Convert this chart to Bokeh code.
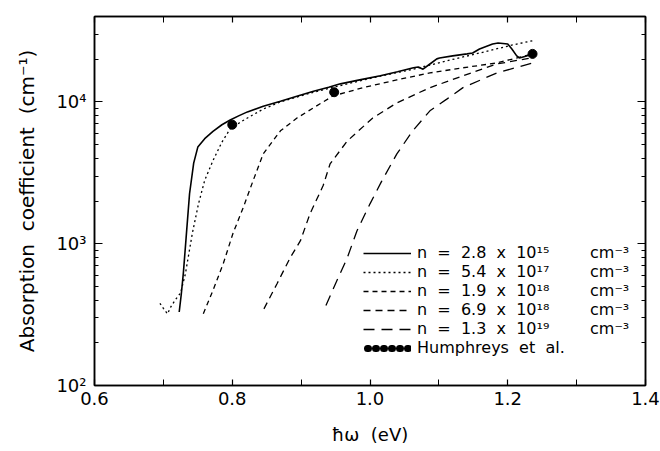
from bokeh.plotting import figure
from bokeh.models import (FixedTicker, LogAxis, LinearAxis, Legend, LegendItem,
                          PrintfTickFormatter, CustomJSTickFormatter, Range1d)
from bokeh.embed import file_html
from bokeh.resources import INLINE

# ---- data (photon energy in eV, absorption coefficient in cm^-1) ----
e_n1 = [0.723, 0.726, 0.729, 0.733, 0.738, 0.744, 0.750, 0.760, 0.772, 0.785,
        0.797, 0.810, 0.822, 0.845, 0.870, 0.895, 0.918, 0.940, 0.957, 0.985,
        1.015, 1.040, 1.063, 1.070, 1.077, 1.087, 1.097, 1.101, 1.120, 1.141,
        1.149, 1.159, 1.178, 1.186, 1.200, 1.206, 1.213, 1.217, 1.226, 1.236]
a_n1 = [330, 440, 620, 1100, 2250, 3700, 4800, 5500, 6200, 6900,
        7450, 8000, 8500, 9300, 10100, 11000, 11900, 12700, 13400, 14300,
        15300, 16300, 17400, 17600, 17000, 18500, 20100, 20400, 21100, 21800,
        22100, 23600, 25600, 26000, 25600, 23600, 21100, 20400, 21000, 21800]

e_n2 = [0.695, 0.700, 0.706, 0.711, 0.717, 0.725, 0.732, 0.742, 0.751, 0.760,
        0.772, 0.785, 0.797, 0.810, 0.822, 0.845, 0.870, 0.918, 0.967, 1.015,
        1.063, 1.112, 1.159, 1.207, 1.236]
a_n2 = [380, 350, 320, 360, 400, 450, 614, 1180, 1910, 2800,
        3850, 5200, 6460, 7100, 7700, 8900, 10000, 11700, 13400, 15200,
        17000, 19500, 22100, 25200, 27000]

e_n3 = [0.758, 0.772, 0.787, 0.801, 0.816, 0.830, 0.845, 0.870, 0.894, 0.918,
        0.946, 0.990, 1.039, 1.087, 1.135, 1.184, 1.236]
a_n3 = [321, 468, 725, 1180, 1800, 2760, 4300, 6250, 7700, 9080,
        11000, 12600, 14300, 16000, 17400, 18800, 21800]

e_n4 = [0.846, 0.865, 0.884, 0.899, 0.913, 0.932, 0.942, 0.967, 1.004, 1.039,
        1.087, 1.135, 1.184, 1.236]
a_n4 = [347, 522, 795, 1050, 1630, 2570, 3650, 5300, 7700, 9840,
        12600, 15250, 18500, 20500]

e_n5 = [0.936, 0.952, 0.967, 0.981, 1.000, 1.017, 1.039, 1.062, 1.087, 1.112,
        1.135, 1.184, 1.236]
a_n5 = [366, 550, 795, 1230, 1910, 2760, 4300, 6250, 8650, 10500,
        12600, 16000, 18800]

e_hum = [0.800, 0.948, 1.236]
a_hum = [6900, 11700, 21800]

S = "\u00a0 "
S2 = "\u00a0\u00a0\u00a0\u00a0\u00a0\u00a0\u00a0 "
labels = ["n" + S + "=" + S + "2.8" + S + "x" + S + "10\u00b9\u2075" + S2 + "cm\u207b\u00b3",
          "n" + S + "=" + S + "5.4" + S + "x" + S + "10\u00b9\u2077" + S2 + "cm\u207b\u00b3",
          "n" + S + "=" + S + "1.9" + S + "x" + S + "10\u00b9\u2078" + S2 + "cm\u207b\u00b3",
          "n" + S + "=" + S + "6.9" + S + "x" + S + "10\u00b9\u2078" + S2 + "cm\u207b\u00b3",
          "n" + S + "=" + S + "1.3" + S + "x" + S + "10\u00b9\u2079" + S2 + "cm\u207b\u00b3",
          "Humphreys" + S + "et" + S + "al."]

x_major = [0.6, 0.8, 1.0, 1.2, 1.4]
x_minor = [0.7, 0.9, 1.1, 1.3]
y_major = [100, 1000, 10000]
y_minor = [200, 300, 400, 500, 600, 700, 800, 900,
           2000, 3000, 4000, 5000, 6000, 7000, 8000, 9000, 20000, 30000]
y_tick_text = {100: "10\u00b2", 1000: "10\u00b3", 10000: "10\u2074"}
x_title = "\u0127\u03c9" + S + "(eV)"
y_title = "Absorption" + S + "coefficient" + S + "(cm\u207b\u00b9)"

FONT = "DejaVu Sans"

p = figure(width=660, height=451, x_range=Range1d(0.6, 1.4), y_range=Range1d(100, 40000),
           y_axis_type="log", output_backend="svg", toolbar_location=None,
           min_border_left=94, min_border_right=15, min_border_top=16, min_border_bottom=66)
p.grid.visible = False
p.outline_line_color = "black"
p.outline_line_width = 1.5
p.background_fill_color = "white"
p.border_fill_color = "white"

def style_axis(ax, tick_major, tick_minor):
    ax.axis_line_color = "black"
    ax.axis_line_width = 1.5
    ax.major_tick_in = tick_major
    ax.major_tick_out = 0
    ax.minor_tick_in = tick_minor
    ax.minor_tick_out = 0
    ax.major_tick_line_color = "black"
    ax.minor_tick_line_color = "black"
    ax.major_tick_line_width = 1.2
    ax.minor_tick_line_width = 1.0
    ax.major_label_text_font = FONT
    ax.major_label_text_color = "black"
    ax.axis_label_text_font = FONT
    ax.axis_label_text_font_style = "normal"
    ax.axis_label_text_color = "black"

xt = FixedTicker(ticks=x_major, minor_ticks=x_minor)
yt = FixedTicker(ticks=y_major, minor_ticks=y_minor)

xa = p.xaxis[0]
xa.ticker = xt
xa.formatter = PrintfTickFormatter(format="%.1f")
style_axis(xa, 6, 6)
xa.major_label_text_font_size = "18px"
xa.major_label_standoff = 6
xa.axis_label = x_title
xa.axis_label_text_font_size = "18px"
xa.axis_label_standoff = 16

ya = p.yaxis[0]
ya.ticker = yt
ya.major_label_overrides = y_tick_text
style_axis(ya, 8, 4)
ya.major_label_text_font_size = "18px"
ya.major_label_standoff = 8
ya.axis_label = y_title
ya.axis_label_text_font_size = "20px"
ya.axis_label_standoff = 14

blank = CustomJSTickFormatter(code="return ''")
top = LinearAxis(ticker=xt, formatter=blank)
style_axis(top, 6, 6)
p.add_layout(top, "above")
right = LogAxis(ticker=yt, formatter=blank)
style_axis(right, 8, 4)
p.add_layout(right, "right")

r1 = p.line(e_n1, a_n1, line_color="black", line_width=1.6)
r2 = p.line(e_n2, a_n2, line_color="black", line_width=1.3, line_dash="2 3")
r3 = p.line(e_n3, a_n3, line_color="black", line_width=1.3, line_dash="5 4")
r4 = p.line(e_n4, a_n4, line_color="black", line_width=1.3, line_dash="7 5")
r5 = p.line(e_n5, a_n5, line_color="black", line_width=1.3, line_dash="11 7")
p.scatter(e_hum, a_hum, size=9, color="black")
# legend-only key: a row of dots (no visible data on the plot)
r6 = p.line([float("nan")], [float("nan")], line_color="black", line_width=7,
            line_cap="round", line_dash="1 7", line_dash_offset=4)

legend = Legend(items=[LegendItem(label=labels[i], renderers=[r])
                       for i, r in enumerate([r1, r2, r3, r4, r5, r6])],
                location=(269, 28))
legend.label_text_font = FONT
legend.label_text_font_size = "16px"
legend.label_text_line_height = 1.0
legend.label_text_color = "black"
legend.glyph_width = 48
legend.glyph_height = 16
legend.label_height = 16
legend.label_standoff = 6
legend.spacing = 0
legend.padding = 0
legend.margin = 0
legend.border_line_color = None
legend.background_fill_alpha = 0
p.add_layout(legend)

open("out.html", "w").write(file_html(p, INLINE))
